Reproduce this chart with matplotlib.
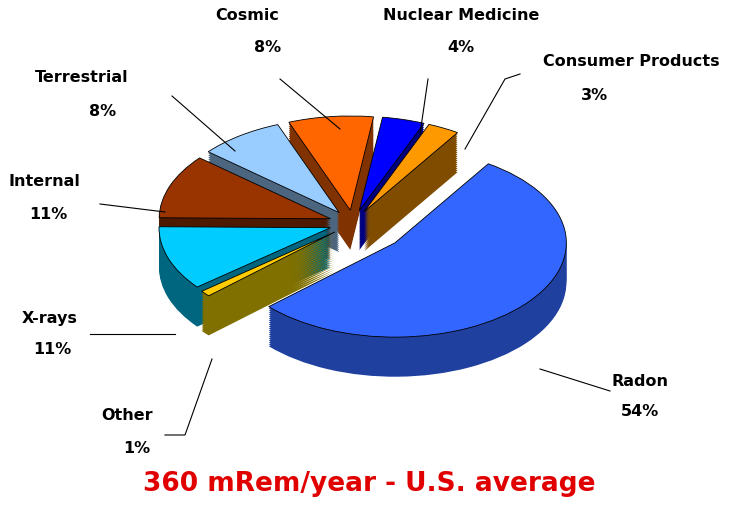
import matplotlib
matplotlib.use("Agg")
import matplotlib.pyplot as plt
from matplotlib.lines import Line2D

categories = ["Radon", "Other", "X-rays", "Internal", "Terrestrial", "Cosmic", "Nuclear Medicine", "Consumer Products"]
values = [54, 1, 11, 11, 8, 8, 4, 3]
labels_pct = ["54%", "1%", "11%", "11%", "8%", "8%", "4%", "3%"]
top_colors = ["#3366FF", "#FFCC00", "#00CCFF", "#993300", "#99CCFF", "#FF6600", "#0000FF", "#FF9900"]
side_colors = ["#2040A0", "#807000", "#006680", "#4D1A00", "#4D6680", "#803300", "#000080", "#804C00"]
explode = [0.32, 0.14, 0.14, 0.14, 0.14, 0.14, 0.14, 0.14]

W, H = 738, 506
fig = plt.figure(figsize=(W/100, H/100), dpi=100)
ax = fig.add_axes([0.13, 0.1, 0.72, 0.82])
depth = 0.42
n = 20
for k in range(n, 0, -1):
    ax.pie(values, explode=explode, colors=side_colors, startangle=57, counterclock=False,
           center=(0, -depth*k/n), wedgeprops=dict(edgecolor="none", linewidth=0))
ax.pie(values, explode=explode, colors=top_colors, startangle=57, counterclock=False,
       center=(0, 0), wedgeprops=dict(edgecolor="black", linewidth=0.6))
ax.set_xlim(-1.5, 1.6)
ax.set_ylim(-1.75, 1.25)
ax.set_aspect(0.55)
ax.axis("off")

def px(x, y):
    return x / W, 1 - y / H

specs = [
    (640, 382, 640, 412, [(610, 392), (540, 370)]),
    (127, 415, 137, 449, [(165, 436), (185, 436), (212, 360)]),
    (50, 318, 52, 350, [(90, 335), (175, 335)]),
    (44, 182, 48, 215, [(100, 205), (165, 213)]),
    (82, 77, 103, 112, [(172, 97), (235, 152)]),
    (247, 15, 268, 48, [(280, 80), (340, 130)]),
    (461, 15, 461, 48, [(428, 80), (420, 135)]),
    (631, 62, 594, 96, [(520, 75), (505, 80), (465, 150)]),
]
font = dict(fontsize=11.5, fontweight="bold", family="DejaVu Sans", ha="center", va="center")
for i, (nx, ny, qx, qy, pts) in enumerate(specs):
    fig.text(*px(nx, ny), categories[i], **font)
    fig.text(*px(qx, qy), labels_pct[i], **font)
    xs = [p[0] / W for p in pts]
    ys = [1 - p[1] / H for p in pts]
    fig.add_artist(Line2D(xs, ys, color="black", lw=0.8, transform=fig.transFigure))

fig.text(*px(369, 484), "360 mRem/year - U.S. average", color="#E00000", fontsize=19,
         fontweight="bold", family="DejaVu Sans", ha="center", va="center")
fig.savefig("out.png", dpi=100)
